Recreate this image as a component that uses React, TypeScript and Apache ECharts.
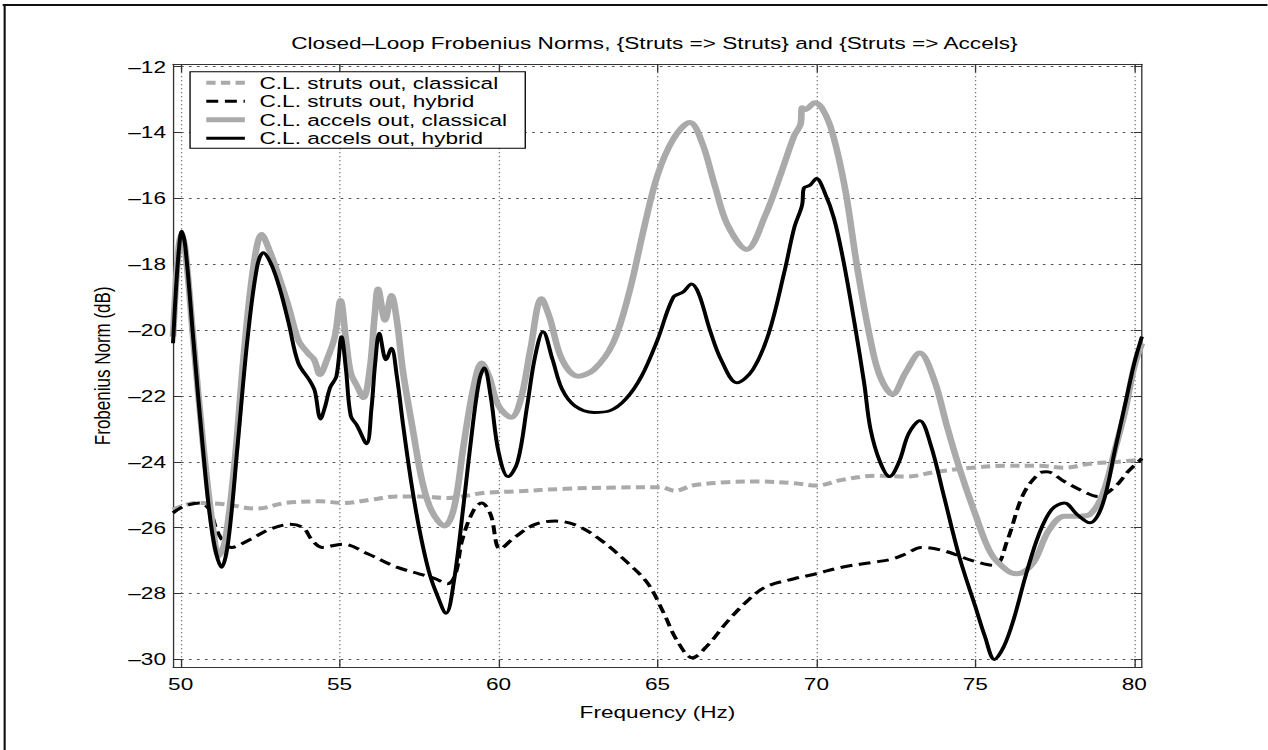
import React, { useEffect, useRef } from "react";
import * as echarts from "echarts";

// Horizontal stretch of the reference figure
const S = 1.33;
const W = 1268;
const H = 750;
const CW = W / S;

const FONT = "'Liberation Sans', Arial, Helvetica, sans-serif";

const titleText = "Closed\u2013Loop Frobenius Norms, {Struts => Struts} and {Struts => Accels}";
const xName = "Frequency (Hz)";
const yName = "Frobenius Norm (dB)";

const xTicks = [50, 55, 60, 65, 70, 75, 80];
const yTicks = [-30, -28, -26, -24, -22, -20, -18, -16, -14, -12];

const seriesNames = [
  "C.L. struts out, classical",
  "C.L. struts out, hybrid",
  "C.L. accels out, classical",
  "C.L. accels out, hybrid",
];

// C.L. struts out, classical
const strutsClassicalFreq = [49.76, 50.5, 51.3, 52.4, 53.3, 54.4, 55.1, 56.0, 56.8, 57.5, 58.4, 59.5, 60.5, 62.1, 63.7, 65.1, 65.55, 66.1, 67.2, 68.2, 69.3, 70.0, 70.8, 71.9, 72.8, 73.8, 74.9, 75.9, 77.0, 77.8, 78.6, 79.5, 80.24];
const strutsClassicalDb = [-25.45, -25.25, -25.28, -25.42, -25.25, -25.2, -25.25, -25.15, -25.05, -25.05, -25.1, -24.95, -24.9, -24.82, -24.78, -24.77, -24.88, -24.72, -24.62, -24.6, -24.65, -24.72, -24.55, -24.42, -24.45, -24.3, -24.18, -24.12, -24.12, -24.18, -24.06, -24.0, -23.93];

// C.L. struts out, hybrid
const strutsHybridFreq = [49.76, 50.1, 50.6, 50.9, 51.2, 51.6, 52.2, 52.8, 53.45, 53.85, 54.15, 54.45, 55.1, 55.9, 56.8, 57.5, 58.0, 58.4, 58.65, 58.85, 59.2, 59.47, 59.75, 60.05, 60.5, 61.15, 61.8, 62.5, 63.25, 64.1, 64.7, 65.2, 65.6, 66.1, 66.6, 67.2, 67.8, 68.4, 69.3, 70.0, 70.8, 71.8, 72.4, 72.8, 73.3, 74.0, 74.9, 75.6, 76.0, 76.5, 77.0, 77.25, 77.8, 78.4, 78.85, 79.4, 79.8, 80.24];
const strutsHybridDb = [-25.55, -25.35, -25.25, -25.45, -26.2, -26.6, -26.35, -26.05, -25.9, -26.0, -26.4, -26.6, -26.5, -26.8, -27.2, -27.4, -27.55, -27.7, -27.4, -26.4, -25.5, -25.25, -25.6, -26.65, -26.3, -25.9, -25.8, -25.95, -26.4, -27.1, -27.7, -28.6, -29.4, -29.95, -29.55, -28.85, -28.25, -27.8, -27.55, -27.4, -27.2, -27.05, -26.95, -26.8, -26.6, -26.7, -27.0, -27.15, -26.4, -25.0, -24.35, -24.3, -24.6, -24.9, -25.05, -24.75, -24.3, -23.9];

// C.L. accels out, classical
const accelsClassicalFreq = [49.76, 49.85, 49.95, 50.03, 50.15, 50.4, 50.7, 51.0, 51.2, 51.4, 51.7, 52.0, 52.3, 52.55, 52.8, 53.1, 53.4, 53.7, 54.0, 54.2, 54.38, 54.6, 54.85, 55.03, 55.2, 55.35, 55.55, 55.75, 55.95, 56.1, 56.21, 56.43, 56.63, 56.8, 57.0, 57.3, 57.6, 57.9, 58.3, 58.6, 58.9, 59.2, 59.47, 59.7, 60.0, 60.4, 60.7, 61.0, 61.35, 61.6, 62.0, 62.5, 63.0, 63.6, 64.1, 64.6, 65.0, 65.5, 66.02, 66.4, 66.8, 67.2, 67.8, 68.4, 68.9, 69.3, 69.5, 69.55, 69.65, 69.95, 70.2, 70.5, 70.9, 71.3, 71.7, 72.0, 72.4, 72.8, 73.25, 73.7, 74.1, 74.5, 75.0, 75.5, 76.0, 76.3, 76.8, 77.3, 77.8, 78.3, 78.6, 79.0, 79.4, 79.7, 80.0, 80.24];
const accelsClassicalDb = [-20.2, -18.6, -17.4, -17.1, -17.6, -20.3, -23.4, -25.9, -26.85, -26.4, -24.0, -20.6, -18.0, -17.1, -17.6, -18.4, -19.3, -20.3, -20.7, -20.9, -21.35, -20.9, -20.2, -19.1, -20.3, -21.3, -21.7, -22.05, -21.2, -19.6, -18.75, -19.7, -18.95, -19.7, -21.3, -23.0, -24.6, -25.5, -25.95, -25.4, -23.5, -21.8, -21.0, -21.4, -22.3, -22.65, -22.1, -20.6, -19.05, -19.6, -20.9, -21.4, -21.2, -20.4, -18.9, -16.8, -15.3, -14.2, -13.7, -14.3, -15.6, -16.8, -17.55, -16.5, -15.2, -14.1, -13.75, -13.25, -13.3, -13.1, -13.3, -14.0, -15.7, -18.2, -20.3, -21.4, -21.95, -21.3, -20.7, -21.5, -22.9, -24.2, -25.6, -26.8, -27.3, -27.4, -27.1, -26.1, -25.65, -25.65, -25.6, -25.0, -23.6, -22.5, -21.1, -20.4];

// C.L. accels out, hybrid
const accelsHybridFreq = [49.76, 49.85, 49.95, 50.03, 50.15, 50.4, 50.7, 51.0, 51.29, 51.5, 51.8, 52.1, 52.4, 52.6, 52.85, 53.12, 53.4, 53.7, 54.07, 54.22, 54.4, 54.55, 54.7, 54.9, 55.06, 55.2, 55.35, 55.55, 55.85, 56.0, 56.12, 56.25, 56.46, 56.63, 56.8, 57.0, 57.25, 57.5, 57.8, 58.05, 58.35, 58.6, 58.9, 59.2, 59.4, 59.55, 59.75, 60.0, 60.3, 60.6, 60.9, 61.15, 61.4, 61.7, 62.0, 62.4, 63.0, 63.5, 64.0, 64.5, 65.0, 65.5, 65.8, 66.07, 66.3, 66.65, 67.0, 67.5, 68.0, 68.5, 69.0, 69.3, 69.55, 69.6, 69.8, 70.0, 70.25, 70.55, 70.85, 71.2, 71.5, 71.7, 72.0, 72.3, 72.6, 72.9, 73.25, 73.6, 74.0, 74.5, 75.0, 75.3, 75.6, 75.9, 76.2, 76.6, 77.0, 77.4, 77.8, 78.2, 78.6, 79.0, 79.4, 79.7, 80.0, 80.24];
const accelsHybridDb = [-20.4, -18.8, -17.5, -17.0, -17.5, -20.3, -23.6, -26.2, -27.2, -26.4, -23.4, -20.3, -18.1, -17.65, -18.0, -18.75, -19.8, -21.0, -21.55, -21.85, -22.7, -22.3, -21.75, -21.4, -20.2, -21.2, -22.6, -22.9, -23.45, -22.4, -21.0, -20.1, -20.9, -20.55, -21.4, -22.9, -24.6, -26.0, -27.3, -28.0, -28.6, -27.6, -25.3, -22.8, -21.5, -21.15, -22.0, -23.7, -24.45, -24.0, -22.3, -20.8, -20.05, -20.9, -21.8, -22.3, -22.5, -22.45, -22.1, -21.4, -20.3, -19.0, -18.85, -18.6, -18.9, -20.0, -20.9, -21.6, -21.2, -20.1, -18.2, -16.9, -16.2, -15.7, -15.6, -15.4, -15.8, -16.6, -17.9, -19.8, -21.6, -23.0, -24.0, -24.45, -24.0, -23.15, -22.75, -23.5, -25.0, -26.9, -28.4, -29.3, -30.0, -29.6, -28.8, -27.4, -26.2, -25.45, -25.25, -25.6, -25.85, -25.3, -23.6, -22.3, -21.0, -20.2];

const zip = (xs: number[], ys: number[]) => xs.map((x, i) => [x, ys[i]]);

const dash = (v: number) => String(v).replace("-", "\u2013");

export default function App() {
  const ref = useRef<HTMLDivElement>(null);

  useEffect(() => {
    if (!ref.current) return;
    const chart = echarts.init(ref.current, null, { renderer: "svg", width: CW, height: H });

    const axisColor = "#333";
    const textStyle = { color: "#000", fontFamily: FONT, fontSize: 17 };

    const option: any = {
      animation: false,
      backgroundColor: "#fff",
      textStyle: { fontFamily: FONT },
      title: {
        text: titleText,
        left: 219,
        top: 34.5,
        padding: 0,
        textStyle: { ...textStyle, fontWeight: "normal" },
      },
      legend: {
        orient: "vertical",
        left: 142.9,
        top: 71.7,
        padding: [2.5, 13.7, 1.5, 9.7],
        itemWidth: 29,
        itemHeight: 14,
        itemGap: 1.5,
        backgroundColor: "#fff",
        borderColor: "#000",
        borderWidth: 1,
        borderRadius: 0,
        selectedMode: false,
        itemStyle: { opacity: 0, borderWidth: 0 },
        lineStyle: { width: "inherit" },
        textStyle: { ...textStyle, lineHeight: 17, padding: [0, 0, 0, 6] },
        data: seriesNames,
      },
      grid: {
        left: 130.1,
        right: CW - 858.6,
        top: 64.3,
        bottom: 82.7,
        containLabel: false,
        outerBoundsMode: "none",
      },
      xAxis: [
        {
          type: "value",
          min: 49.76,
          max: 80.24,
          position: "bottom",
          axisLine: { show: true, onZero: false, lineStyle: { color: axisColor, width: 1 } },
          axisTick: { show: true, inside: true, length: 8, customValues: xTicks, lineStyle: { color: axisColor } },
          axisLabel: { customValues: xTicks, margin: 8, ...textStyle, formatter: (v: number) => dash(v) },
          splitLine: { show: true, lineStyle: { type: [1, 3], color: "#555", width: 1 } },
          name: xName,
          nameLocation: "middle",
          nameGap: 36,
          nameTextStyle: textStyle,
        },
        {
          type: "value",
          min: 49.76,
          max: 80.24,
          position: "top",
          axisLine: { show: true, onZero: false, lineStyle: { color: axisColor, width: 1 } },
          axisTick: { show: true, inside: true, length: 8, customValues: xTicks, lineStyle: { color: axisColor } },
          axisLabel: { show: false },
          splitLine: { show: false },
        },
      ],
      yAxis: [
        {
          type: "value",
          min: -30.24,
          max: -11.93,
          position: "left",
          axisLine: { show: true, onZero: false, lineStyle: { color: axisColor, width: 1 } },
          axisTick: { show: true, inside: true, length: 6, customValues: yTicks, lineStyle: { color: axisColor } },
          axisLabel: { customValues: yTicks, margin: 5.3, ...textStyle, formatter: (v: number) => dash(v) },
          splitLine: { show: true, lineStyle: { type: [2, 4], color: "#555", width: 1 } },
          name: yName,
          nameLocation: "middle",
          nameGap: 42,
          nameRotate: 90,
          nameTextStyle: textStyle,
        },
        {
          type: "value",
          min: -30.24,
          max: -11.93,
          position: "right",
          axisLine: { show: true, onZero: false, lineStyle: { color: axisColor, width: 1 } },
          axisTick: { show: true, inside: true, length: 6, customValues: yTicks, lineStyle: { color: axisColor } },
          axisLabel: { show: false },
          splitLine: { show: false },
        },
      ],
      series: [
        {
          name: seriesNames[0],
          type: "line",
          data: zip(strutsClassicalFreq, strutsClassicalDb),
          symbol: "none",
          smooth: 0.35,
          lineStyle: { color: "#aaaaaa", width: 4, type: [7, 4] },
          itemStyle: { color: "#aaaaaa" },
        },
        {
          name: seriesNames[1],
          type: "line",
          data: zip(strutsHybridFreq, strutsHybridDb),
          symbol: "none",
          smooth: 0.35,
          lineStyle: { color: "#000", width: 3, type: [9, 5] },
          itemStyle: { color: "#000" },
        },
        {
          name: seriesNames[2],
          type: "line",
          data: zip(accelsClassicalFreq, accelsClassicalDb),
          symbol: "none",
          smooth: 0.35,
          lineStyle: { color: "#aaaaaa", width: 5 },
          itemStyle: { color: "#aaaaaa" },
        },
        {
          name: seriesNames[3],
          type: "line",
          data: zip(accelsHybridFreq, accelsHybridDb),
          symbol: "none",
          smooth: 0.35,
          lineStyle: { color: "#000", width: 3 },
          itemStyle: { color: "#000" },
        },
      ],
      graphic: [
        { type: "line", shape: { x1: 2, y1: 5, x2: CW + 10, y2: 5 }, style: { stroke: "#111", lineWidth: 2 } },
        { type: "line", shape: { x1: 3.5, y1: 4, x2: 3.5, y2: H + 10 }, style: { stroke: "#111", lineWidth: 1.6 } },
      ],
    };

    chart.setOption(option);
    return () => chart.dispose();
  }, []);

  return (
    <div
      style={{
        position: "fixed",
        left: 0,
        top: 0,
        width: W,
        height: H,
        overflow: "hidden",
        background: "#fff",
      }}
    >
      <div
        ref={ref}
        style={{ width: CW, height: H, transform: `scaleX(${S})`, transformOrigin: "0 0" }}
      />
    </div>
  );
}
